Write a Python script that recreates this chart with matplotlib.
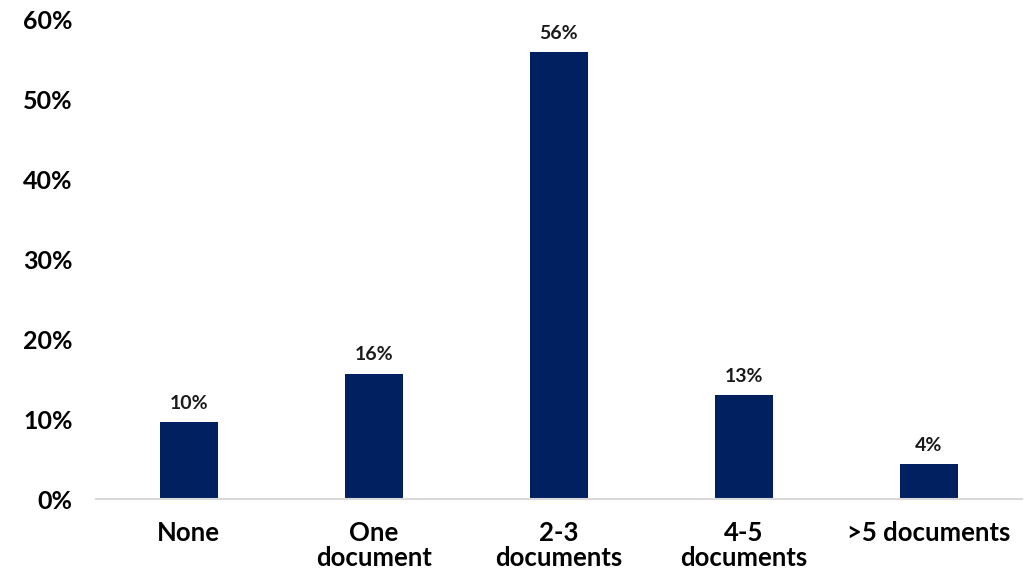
import matplotlib.pyplot as plt
from matplotlib.ticker import PercentFormatter

plt.rcParams['font.family'] = ['Lato', 'DejaVu Sans']

categories = ["None", "One\ndocument", "2-3\ndocuments", "4-5\ndocuments", ">5 documents"]
values = [0.0965, 0.157, 0.56, 0.13, 0.044]
value_labels = ["10%", "16%", "56%", "13%", "4%"]
yticks = [0, 0.1, 0.2, 0.3, 0.4, 0.5, 0.6]

fig = plt.figure(figsize=(10.25, 5.71), dpi=100)
ax = fig.add_axes([0.094, 0.126, 0.9026, 0.839])

x = range(len(categories))
bars = ax.bar(x, values, width=0.31, color='#002060')

for b, lab in zip(bars, value_labels):
    ax.text(b.get_x() + b.get_width() / 2, b.get_height() + 0.013, lab,
            ha='center', va='bottom', fontsize=14, fontweight='bold', color='#1a1a1a')

ax.set_xlim(-0.5, len(categories) - 0.5)
ax.set_ylim(0, 0.6)
ax.set_yticks(yticks)
ax.yaxis.set_major_formatter(PercentFormatter(1.0, decimals=0))
ax.set_xticks(list(x))
ax.set_xticklabels(categories, linespacing=1.05)

for s in ['top', 'right', 'left']:
    ax.spines[s].set_visible(False)
ax.spines['bottom'].set_color('#d9d9d9')
ax.spines['bottom'].set_linewidth(1.5)

ax.tick_params(axis='both', length=0, colors='black')
ax.tick_params(axis='x', pad=16, labelsize=18.5)
ax.tick_params(axis='y', pad=17, labelsize=18)
for t in ax.get_xticklabels() + ax.get_yticklabels():
    t.set_fontweight('bold')

fig.savefig('out.png', dpi=100)
